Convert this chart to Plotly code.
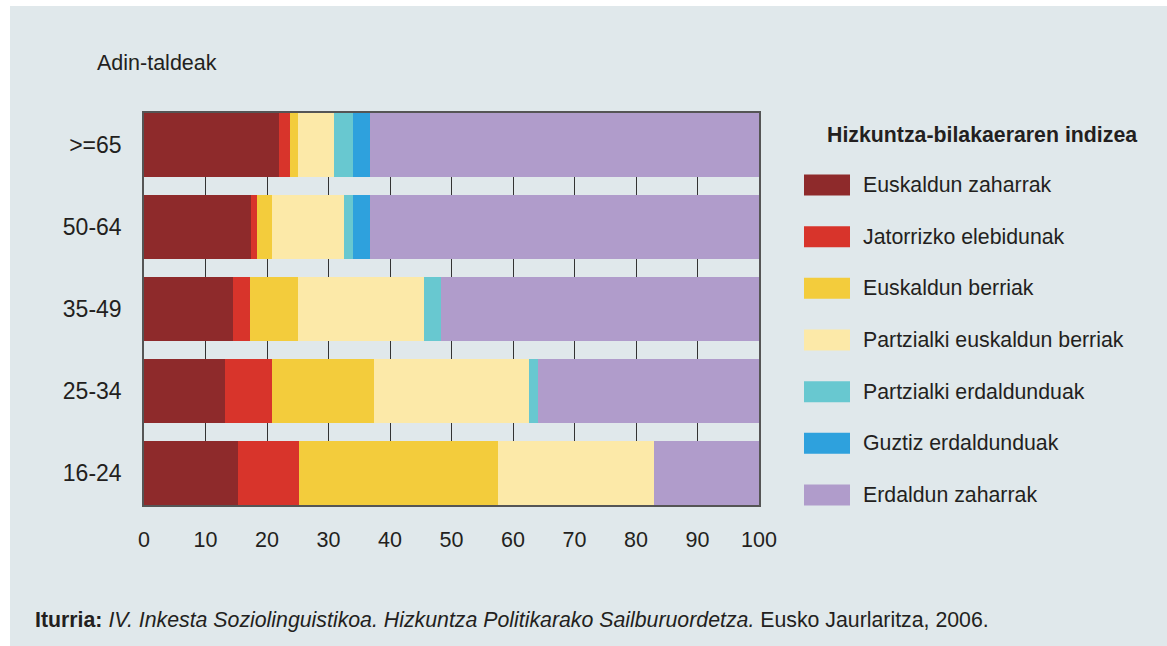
import plotly.graph_objects as go

age_groups = [">=65", "50-64", "35-49", "25-34", "16-24"]
series_names = [
    "Euskaldun zaharrak",
    "Jatorrizko elebidunak",
    "Euskaldun berriak",
    "Partzialki euskaldun berriak",
    "Partzialki erdaldunduak",
    "Guztiz erdaldunduak",
    "Erdaldun zaharrak",
]
euskaldun_zaharrak = [22.0, 17.4, 14.5, 13.2, 15.3]
jatorrizko_elebidunak = [1.7, 1.0, 2.7, 7.6, 9.9]
euskaldun_berriak = [1.3, 2.4, 7.8, 16.6, 32.4]
partzialki_euskaldun_berriak = [5.9, 11.7, 20.5, 25.2, 25.3]
partzialki_erdaldunduak = [3.1, 1.5, 2.8, 1.5, 0.0]
guztiz_erdaldunduak = [2.7, 2.7, 0.0, 0.0, 0.0]
erdaldun_zaharrak = [63.3, 63.3, 51.7, 35.9, 17.1]
x_ticks = [0, 10, 20, 30, 40, 50, 60, 70, 80, 90, 100]

series_values = [
    euskaldun_zaharrak, jatorrizko_elebidunak, euskaldun_berriak,
    partzialki_euskaldun_berriak, partzialki_erdaldunduak,
    guztiz_erdaldunduak, erdaldun_zaharrak,
]
colors = ["#8e2a2b", "#d8342b", "#f3cc3c", "#fce9a8", "#68c8d0", "#2ea1dd", "#b09ccb"]

BG = "#e0e8eb"
TXT = "#231f20"
FONT = "Liberation Sans, Arial, sans-serif"
W, H = 1167, 646
L, R, T, B = 144, 759, 113, 505  # plot area in screen pixels


def px(x):
    return (x - L) / (R - L)


def py(y):
    return (B - y) / (B - T)


fig = go.Figure()
for name, vals, col in zip(series_names, series_values, colors):
    fig.add_trace(go.Bar(
        y=age_groups, x=vals, name=name, orientation="h",
        marker=dict(color=col, line=dict(width=0)),
        showlegend=False,
    ))

shapes = []
annotations = []
# white outer border on top and left edges
shapes.append(dict(type="rect", xref="paper", yref="paper", x0=px(-2), x1=px(W + 2),
                   y0=py(6), y1=py(-2), fillcolor="white", line=dict(width=0), layer="above"))
shapes.append(dict(type="rect", xref="paper", yref="paper", x0=px(-2), x1=px(10),
                   y0=py(H + 2), y1=py(-2), fillcolor="white", line=dict(width=0), layer="above"))

# custom legend
annotations.append(dict(xref="paper", yref="paper", x=px(825), y=py(135), xanchor="left",
                        yanchor="middle", showarrow=False,
                        text="<b>Hizkuntza-bilakaeraren indizea</b>",
                        font=dict(size=21.3, color=TXT, family=FONT)))
pitch = 51.67
for i, (name, col) in enumerate(zip(series_names, colors)):
    cy = 185 + pitch * i
    shapes.append(dict(type="rect", xref="paper", yref="paper", x0=px(804), x1=px(850),
                       y0=py(cy + 10.5), y1=py(cy - 10.5), fillcolor=col,
                       line=dict(width=0), layer="above"))
    annotations.append(dict(xref="paper", yref="paper", x=px(861), y=py(cy), xanchor="left",
                            yanchor="middle", showarrow=False, text=name,
                            font=dict(size=21.3, color=TXT, family=FONT)))

annotations.append(dict(xref="paper", yref="paper", x=px(95), y=py(63), xanchor="left",
                        yanchor="middle", showarrow=False, text="Adin-taldeak",
                        font=dict(size=21.5, color=TXT, family=FONT)))
annotations.append(dict(xref="paper", yref="paper", x=px(33), y=py(620), xanchor="left",
                        yanchor="middle", showarrow=False,
                        text="<b>Iturria:</b> <i>IV. Inkesta Soziolinguistikoa. Hizkuntza Politikarako "
                             "Sailburuordetza.</i> Eusko Jaurlaritza, 2006.",
                        font=dict(size=21.3, color=TXT, family=FONT)))

fig.update_layout(
    width=W, height=H,
    margin=dict(l=L, r=W - R, t=T, b=H - B, pad=0),
    paper_bgcolor=BG, plot_bgcolor=BG,
    barmode="stack", bargap=0.22,
    font=dict(family=FONT, color=TXT, size=21),
    shapes=shapes, annotations=annotations,
    hovermode=False,
    xaxis=dict(range=[0, 100], tickvals=x_ticks, showgrid=True, gridcolor="#333333",
               gridwidth=1, zeroline=False, showline=True, mirror=True,
               linecolor="#555555", linewidth=1.5, ticks="", ticklabelstandoff=14,
               tickfont=dict(size=21.5, color=TXT), fixedrange=True),
    yaxis=dict(categoryorder="array", categoryarray=age_groups,
               range=[4.39, -0.39], showgrid=False, zeroline=False, showline=True,
               mirror=True, linecolor="#555555", linewidth=1.5, ticks="",
               ticklabelstandoff=16, tickfont=dict(size=23, color=TXT), fixedrange=True),
)

fig.write_html("out.html", config={"displayModeBar": False},
               post_script="document.body.style.margin='0';")
